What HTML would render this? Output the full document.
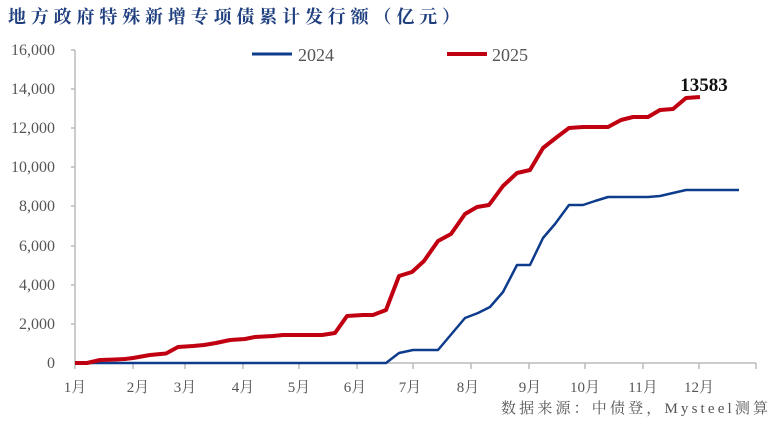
<!DOCTYPE html>
<html><head><meta charset="utf-8"><style>
html,body{margin:0;padding:0;background:#fff;}
svg{display:block;}
</style></head><body>
<svg width="775" height="422" viewBox="0 0 775 422" xmlns="http://www.w3.org/2000/svg">
<rect width="775" height="422" fill="#fff"/>
<text x="8" y="23" font-family="'Noto Serif CJK SC','Liberation Serif',serif" font-weight="bold" font-size="18" fill="#1f3f7f" textLength="452" lengthAdjust="spacing">地方政府特殊新增专项债累计发行额（亿元）</text>
<g font-family="'Liberation Serif',serif" font-size="16" fill="#555" text-anchor="end">
<text x="55" y="55">16,000</text>
<text x="55" y="94">14,000</text>
<text x="55" y="133">12,000</text>
<text x="55" y="172">10,000</text>
<text x="55" y="211">8,000</text>
<text x="55" y="251">6,000</text>
<text x="55" y="290">4,000</text>
<text x="55" y="329">2,000</text>
<text x="55" y="368">0</text>
</g>
<g stroke="#bbb" stroke-width="1.5" fill="none">
<line x1="75" y1="50" x2="75" y2="364"/>
<line x1="75" y1="363" x2="756" y2="363"/>
<line x1="71" y1="50" x2="75" y2="50"/><line x1="71" y1="89" x2="75" y2="89"/><line x1="71" y1="128" x2="75" y2="128"/><line x1="71" y1="167" x2="75" y2="167"/><line x1="71" y1="206" x2="75" y2="206"/><line x1="71" y1="246" x2="75" y2="246"/><line x1="71" y1="285" x2="75" y2="285"/><line x1="71" y1="324" x2="75" y2="324"/>
<line x1="75" y1="363" x2="75" y2="369"/><line x1="133" y1="363" x2="133" y2="369"/><line x1="185" y1="363" x2="185" y2="369"/><line x1="243" y1="363" x2="243" y2="369"/><line x1="299" y1="363" x2="299" y2="369"/><line x1="357" y1="363" x2="357" y2="369"/><line x1="413" y1="363" x2="413" y2="369"/><line x1="471" y1="363" x2="471" y2="369"/><line x1="529" y1="363" x2="529" y2="369"/><line x1="585" y1="363" x2="585" y2="369"/><line x1="643" y1="363" x2="643" y2="369"/><line x1="699" y1="363" x2="699" y2="369"/><line x1="756" y1="363" x2="756" y2="369"/>
</g>
<g font-family="'Liberation Serif','Noto Serif CJK SC',serif" font-size="15" fill="#555" text-anchor="middle">
<text x="75" y="392">1月</text><text x="138" y="392">2月</text><text x="185" y="392">3月</text><text x="243" y="392">4月</text><text x="299" y="392">5月</text><text x="355" y="392">6月</text><text x="410" y="392">7月</text><text x="468" y="392">8月</text><text x="530" y="392">9月</text><text x="585" y="392">10月</text><text x="643" y="392">11月</text><text x="699" y="392">12月</text>
</g>
<text x="501" y="413" textLength="267" lengthAdjust="spacing" font-family="'Liberation Serif','Noto Serif CJK SC',serif" font-size="15" fill="#555">数据来源：中债登，Mysteel测算</text>
<line x1="252" y1="54" x2="292" y2="54" stroke="#0e3c8c" stroke-width="3"/>
<text x="298" y="61" font-family="'Liberation Serif',serif" font-size="18" fill="#555">2024</text>
<line x1="447" y1="54" x2="487" y2="54" stroke="#c00010" stroke-width="4"/>
<text x="492" y="61" font-family="'Liberation Serif',serif" font-size="18" fill="#555">2025</text>
<polyline fill="none" stroke="#0e3c8c" stroke-width="2.5" stroke-linejoin="round" points="75,363 386,363 399,353 413,350 438,350 465,318 478,313 490,307 503,292 517,265 530,265 543,238 555,224 569,205 583,205 595,201 608,197 622,197 648,197 660,196 673,193 686,190 739,190"/>
<polyline fill="none" stroke="#c00010" stroke-width="4" stroke-linejoin="round" points="75,363 87,363 100,360 115,359.5 125,359 133,358 150,355 166,353.5 178,347 193,346 204,345 216,343 230,340 245,339 255,337 273,336 283,335 300,335 322,335 335,333 347,316 363,315 373,315 386,310 399,276 412,272 424,261 438,241 451,234 465,214 477,207 489,205 503,186 517,173 530,170 543,148 557,137 569,128 583,127 608,127 621,120 633,117 648,117 660,110 673,109 686,98 700,97"/>
<text x="704" y="91" text-anchor="middle" font-family="'Liberation Serif',serif" font-weight="bold" font-size="19" fill="#111">13583</text>
</svg>
</body></html>
